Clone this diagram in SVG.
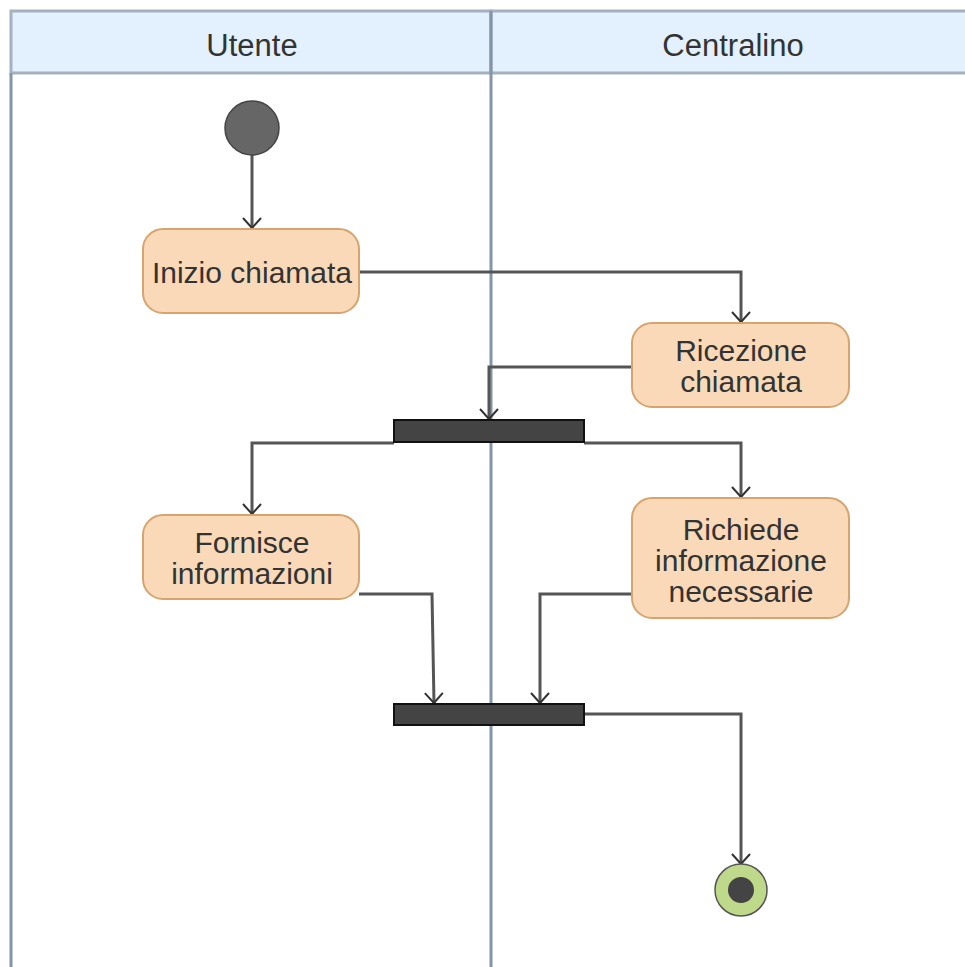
<svg xmlns="http://www.w3.org/2000/svg" width="965" height="967" viewBox="0 0 965 967">
  <style>
    .lane-head { fill: #e3f0fd; stroke: #a3b1c0; stroke-width: 3; }
    .lane-line { stroke: #8395a8; stroke-width: 3; fill: none; }
    .action { fill: #f9d9b8; stroke: #d7a46f; stroke-width: 2; }
    .label { font-family: "Liberation Sans", Arial, sans-serif; font-size: 30px; fill: #333; text-anchor: middle; }
    .head-label { font-family: "Liberation Sans", Arial, sans-serif; font-size: 31px; fill: #333; text-anchor: middle; }
    .bar { fill: #444; stroke: #111; stroke-width: 2; }
    .flow { fill: none; stroke: #555; stroke-width: 3; marker-end: url(#open-arrow); }
  </style>
  <defs>
    <marker id="open-arrow" markerWidth="22" markerHeight="22" refX="11" refY="11" orient="auto" markerUnits="userSpaceOnUse">
      <path d="M1,2 L11,11 L1,20" fill="none" stroke="#333" stroke-width="2"/>
    </marker>
  </defs>

  <rect width="965" height="967" fill="#fff"/>

  <!-- swimlanes -->
  <g id="lanes">
    <rect class="lane-head" x="11" y="11" width="480" height="62"/>
    <rect class="lane-head" x="491" y="11" width="480" height="62"/>
    <line class="lane-line" x1="11" y1="73" x2="11" y2="967"/>
    <line class="lane-line" x1="491" y1="11" x2="491" y2="967"/>
    <text class="head-label" x="252" y="56">Utente</text>
    <text class="head-label" x="733" y="56">Centralino</text>
  </g>

  <!-- connectors -->
  <g id="connectors">
    <path class="flow" d="M252,155 L252,228"/>
    <path class="flow" d="M359,272 L741,272 L741,322"/>
    <path class="flow" d="M632,367 L489,367 L489,419"/>
    <path class="flow" d="M394,443 L252,443 L252,514"/>
    <path class="flow" d="M584,443 L741,443 L741,497"/>
    <path class="flow" d="M359,594 L432,594 L434,703"/>
    <path class="flow" d="M632,594 L540,594 L540,703"/>
    <path class="flow" d="M584,714 L741,714 L741,864"/>
  </g>

  <g id="start">
    <circle cx="252" cy="128" r="27" fill="#666" stroke="#444" stroke-width="1.5"/>
  </g>

  <g id="inizio-chiamata">
    <rect class="action" x="143" y="229" width="216" height="84" rx="20"/>
    <text class="label" x="252" y="283">Inizio chiamata</text>
  </g>

  <g id="ricezione-chiamata">
    <rect class="action" x="632" y="323" width="217" height="84" rx="20"/>
    <text class="label" x="741" y="361">Ricezione</text>
    <text class="label" x="741" y="392">chiamata</text>
  </g>

  <g id="fork">
    <rect class="bar" x="394" y="420" width="190" height="22"/>
  </g>

  <g id="fornisce-informazioni">
    <rect class="action" x="143" y="515" width="216" height="84" rx="20"/>
    <text class="label" x="252" y="553">Fornisce</text>
    <text class="label" x="252" y="584">informazioni</text>
  </g>

  <g id="richiede-informazione">
    <rect class="action" x="632" y="498" width="217" height="120" rx="20"/>
    <text class="label" x="741" y="540">Richiede</text>
    <text class="label" x="741" y="571">informazione</text>
    <text class="label" x="741" y="602">necessarie</text>
  </g>

  <g id="join">
    <rect class="bar" x="394" y="704" width="190" height="21"/>
  </g>

  <g id="end">
    <circle cx="741" cy="890" r="26" fill="#bfd98b" stroke="#555" stroke-width="1.5"/>
    <circle cx="741" cy="890" r="13" fill="#444"/>
  </g>
</svg>
